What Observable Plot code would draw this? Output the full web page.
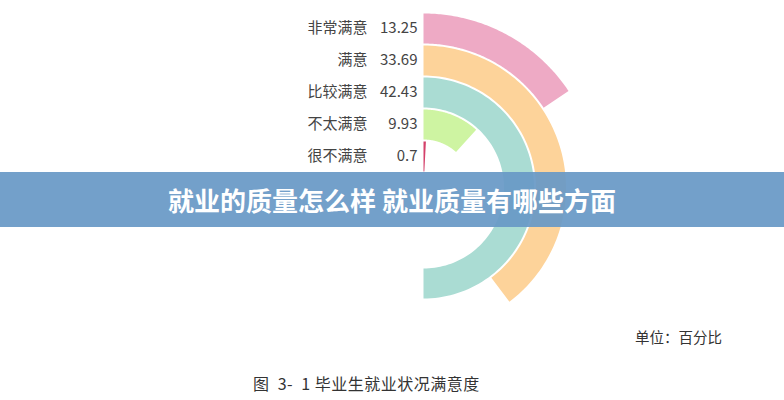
<!DOCTYPE html>
<html><head><meta charset="utf-8">
<script src="https://cdn.jsdelivr.net/npm/d3@7"></script>
<script src="https://cdn.jsdelivr.net/npm/@observablehq/plot@0.6"></script>
<style>
body{margin:0;background:#fff;font-family:"Noto Sans CJK SC","Noto Sans",sans-serif;}
#wrap{position:relative;width:784px;height:400px;overflow:hidden;}
#banner{position:absolute;left:0;top:172px;width:784px;height:55px;background:rgba(104,153,198,0.93);color:#fff;font-weight:bold;font-size:26px;display:flex;align-items:center;justify-content:center;letter-spacing:0px;}
#unit{position:absolute;left:635px;top:326px;font-size:14.5px;color:#333;}
#caption{position:absolute;left:253px;top:371px;font-size:16px;color:#333;white-space:pre;letter-spacing:0.5px;}
</style></head><body><div id="wrap"></div>
<script>
const categories = ["非常满意","满意","比较满意","不太满意","很不满意"];
const values = [13.25, 33.69, 42.43, 9.93, 0.7];
const colors = ["#eeaac5","#fdd39a","#aadcd3","#cef4a2","#d4406a"];
const title = "就业的质量怎么样 就业质量有哪些方面";
const unitLabel = "单位：百分比";
const caption = "图  3-  1 毕业生就业状况满意度";

const W = 784, H = 400, cx = 423, cy = 187.5;
const angle = d3.scaleLinear().domain([0, 2 * d3.max(values)]).range([0, 2 * Math.PI]);
const radius = d3.scaleBand().domain(categories.slice().reverse()).range([16.5, 174.5]).paddingInner(2 / 32).paddingOuter(0);

const rows = categories.map((c, i) => ({cat: c, value: values[i]}));
const pts = [];
for (const r of rows) {
  const a1 = angle(r.value), r0 = radius(r.cat), r1 = r0 + radius.bandwidth();
  const n = 90;
  for (let k = 0; k <= n; k++) { const t = a1 * k / n; pts.push({cat: r.cat, x: r1 * Math.sin(t), y: r1 * Math.cos(t)}); }
  for (let k = n; k >= 0; k--) { const t = a1 * k / n; pts.push({cat: r.cat, x: r0 * Math.sin(t), y: r0 * Math.cos(t)}); }
}

const chart = Plot.plot({
  width: W, height: H, margin: 0,
  x: {domain: [-cx, W - cx], range: [0, W], axis: null},
  y: {domain: [cy - H, cy], range: [H, 0], axis: null},
  color: {domain: categories, range: colors},
  style: {fontFamily: '"Noto Sans CJK SC","Noto Sans",sans-serif', background: "#fff"},
  marks: [
    Plot.line(pts, {x: "x", y: "y", z: "cat", fill: "cat", stroke: "none"}),
    Plot.text(rows, {x: -56, y: d => radius(d.cat) + radius.bandwidth() / 2, text: "cat", textAnchor: "end", fontSize: 15, fill: "#444"}),
    Plot.text(rows, {x: -6, y: d => radius(d.cat) + radius.bandwidth() / 2, text: d => String(d.value), textAnchor: "end", fontSize: 15, fill: "#444"})
  ]
});
const wrap = document.getElementById("wrap");
wrap.appendChild(chart);
const b = document.createElement("div"); b.id = "banner"; b.textContent = title; wrap.appendChild(b);
const u = document.createElement("div"); u.id = "unit"; u.textContent = unitLabel; wrap.appendChild(u);
const c = document.createElement("div"); c.id = "caption"; c.textContent = caption; wrap.appendChild(c);
</script></body></html>
